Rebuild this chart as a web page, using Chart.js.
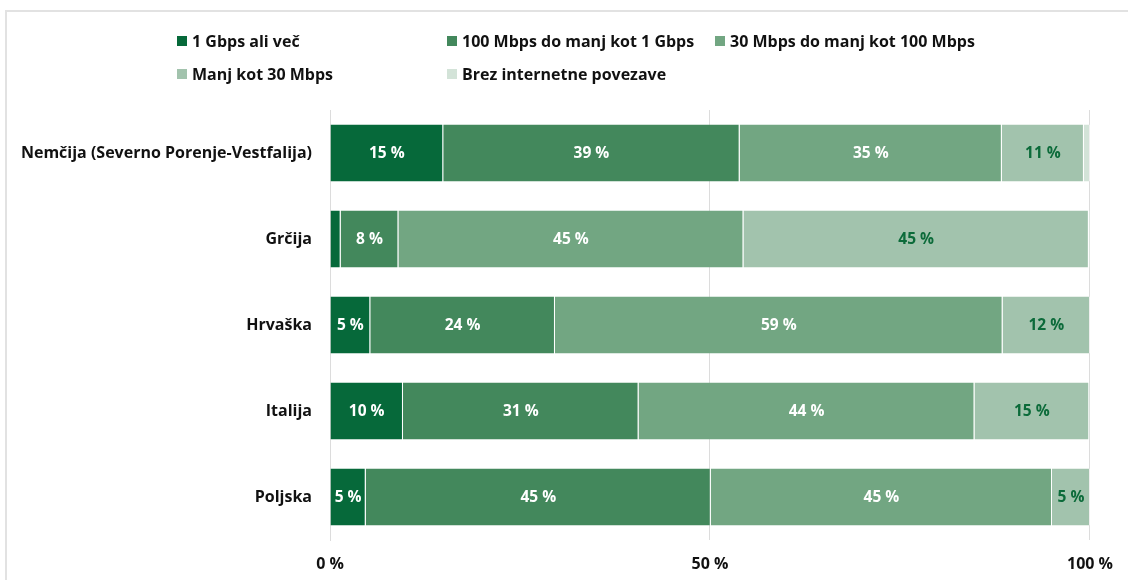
<!DOCTYPE html>
<html>
<head>
<meta charset="utf-8">
<script src="https://cdn.jsdelivr.net/npm/chart.js@4"></script>
<style>
  html, body { margin: 0; padding: 0; background: #ffffff; }
  #wrap { position: relative; width: 1128px; height: 580px; }
</style>
</head>
<body>
<div id="wrap"><canvas id="c" width="1128" height="580"></canvas></div>
<script>
// Regions and connection-speed shares of households (%)
const regions = ['Nemčija (Severno Porenje-Vestfalija)', 'Grčija', 'Hrvaška', 'Italija', 'Poljska'];
const seriesNames = [
  '1 Gbps ali več',
  '100 Mbps do manj kot 1 Gbps',
  '30 Mbps do manj kot 100 Mbps',
  'Manj kot 30 Mbps',
  'Brez internetne povezave'
];
const gbps1        = [14.9, 1.4, 5.3, 9.6, 4.7];
const mbps100      = [39.0, 7.6, 24.3, 31.0, 45.4];
const mbps30       = [34.5, 45.4, 58.9, 44.2, 44.9];
const below30      = [10.8, 45.45, 11.5, 15.1, 5.0];
const noConnection = [0.8, 0.15, 0.0, 0.1, 0.0];
const xTicks = [0, 50, 100];

const seriesColors = ['#06693a', '#43885c', '#72a682', '#a2c3ad', '#d3e3d8'];
const valueColors  = ['#ffffff', '#ffffff', '#ffffff', '#0c6b3a', null];
const FONT = '"Open Sans"';

const seriesData = [gbps1, mbps100, mbps30, below30, noConnection];

// Light frame around the figure
const framePlugin = {
  id: 'frame',
  beforeDraw(chart) {
    const ctx = chart.ctx;
    ctx.save();
    ctx.strokeStyle = '#e2e2e2';
    ctx.lineWidth = 2;
    ctx.beginPath();
    ctx.moveTo(6, chart.height);
    ctx.lineTo(6, 11);
    ctx.lineTo(chart.width, 11);
    ctx.stroke();
    ctx.restore();
  }
};

// Legend laid out as a three-column grid
const gridLegend = {
  id: 'gridLegend',
  afterDraw(chart) {
    const cols = [177, 447, 715];
    const rows = [41, 74];
    const ctx = chart.ctx;
    ctx.save();
    ctx.font = 'bold 16px ' + FONT;
    ctx.textBaseline = 'middle';
    ctx.textAlign = 'left';
    chart.data.datasets.forEach((ds, i) => {
      const x = cols[i % 3];
      const y = rows[Math.floor(i / 3)];
      ctx.fillStyle = ds.backgroundColor;
      ctx.fillRect(x, y - 5, 10, 10);
      ctx.fillStyle = '#111111';
      ctx.fillText(ds.label, x + 15, y + 1);
    });
    ctx.restore();
  }
};

// Percentage labels centred in each segment
const valueLabels = {
  id: 'valueLabels',
  afterDatasetsDraw(chart) {
    const ctx = chart.ctx;
    ctx.save();
    ctx.font = 'bold 15.5px ' + FONT;
    ctx.textAlign = 'center';
    ctx.textBaseline = 'middle';
    chart.data.datasets.forEach((ds, di) => {
      if (!ds.valueColor) return;
      chart.getDatasetMeta(di).data.forEach((bar, i) => {
        const v = ds.data[i];
        if (v < 3) return;
        const p = bar.getProps(['x', 'y', 'base'], true);
        ctx.fillStyle = ds.valueColor;
        ctx.fillText(Math.round(v) + ' %', (p.x + p.base) / 2, p.y + 1);
      });
    });
    ctx.restore();
  }
};

const datasets = seriesNames.map((name, i) => ({
  label: name,
  data: seriesData[i],
  backgroundColor: seriesColors[i],
  borderColor: 'rgba(255,255,255,0.55)',
  borderWidth: { right: 1, left: 0, top: 0, bottom: 0 },
  borderSkipped: false,
  valueColor: valueColors[i],
  categoryPercentage: 1,
  barPercentage: 0.665
}));

new Chart(document.getElementById('c'), {
  type: 'bar',
  data: { labels: regions, datasets },
  options: {
    indexAxis: 'y',
    responsive: false,
    animation: false,
    devicePixelRatio: 1,
    layout: { padding: { top: 110, right: 34, left: 0, bottom: 0 } },
    plugins: {
      legend: { display: false },
      tooltip: { enabled: false }
    },
    scales: {
      x: {
        stacked: true,
        min: 0,
        max: 100,
        afterBuildTicks: (scale) => { scale.ticks = xTicks.map(v => ({ value: v })); },
        afterFit: (scale) => { scale.height = 40; },
        grid: { color: '#dcdcdc', lineWidth: 1, drawTicks: false },
        border: { display: false },
        ticks: {
          padding: 15,
          color: '#111111',
          maxRotation: 0,
          font: { family: FONT, weight: 'bold', size: 16 },
          callback: (v) => v + ' %'
        }
      },
      y: {
        stacked: true,
        afterFit: (scale) => { scale.width = 330; },
        grid: { display: false, drawTicks: false },
        border: { display: true, color: '#dcdcdc', width: 1 },
        ticks: {
          padding: 18,
          color: '#111111',
          font: { family: FONT, weight: 'bold', size: 16 }
        }
      }
    }
  },
  plugins: [framePlugin, gridLegend, valueLabels]
});
</script>
</body>
</html>
